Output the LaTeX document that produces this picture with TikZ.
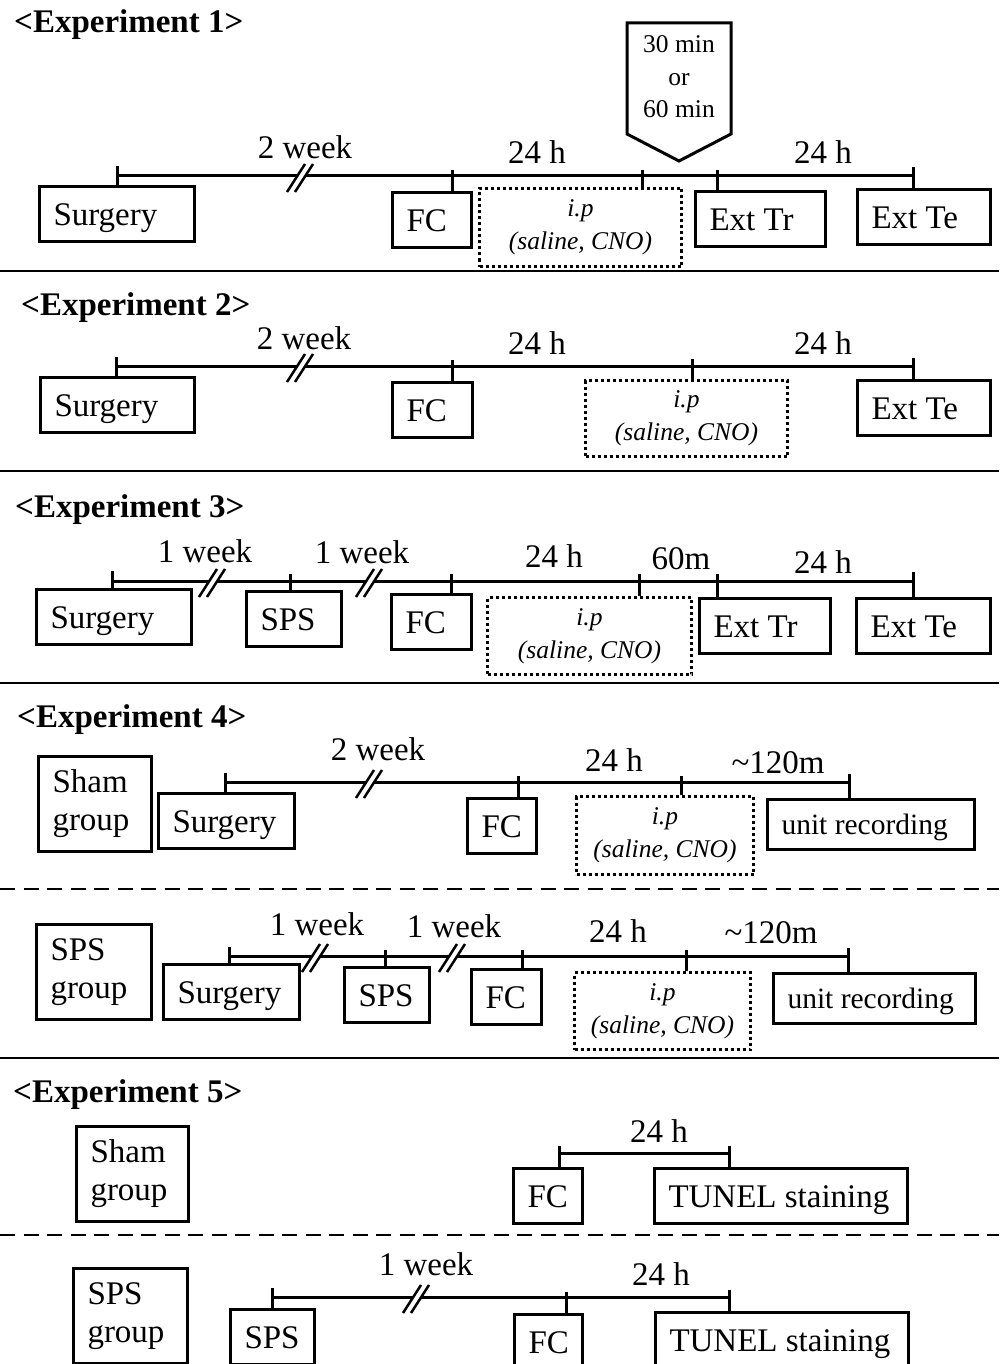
\documentclass[tikz,border=0pt]{standalone}
\usepackage{fontspec}
\setmainfont{Liberation Serif}
\usepackage{tikz}
\usetikzlibrary{positioning}
\tikzset{
box/.style={draw, line width=3pt, anchor=north west, inner xsep=14pt, inner ysep=0pt, minimum height=55pt, text width=#1, align=flush left, text height=23pt, text depth=0pt, font=\fontsize{33}{39}\selectfont}, % event boxes
grp/.style={draw, line width=3pt, anchor=north west, inner xsep=14pt, inner ysep=0pt, minimum height=95pt, text width=#1, align=flush left, font=\fontsize{33}{38}\selectfont}, % group boxes
rec/.style={box=#1, minimum height=50pt, text height=20pt, font=\fontsize{29.5}{35}\selectfont}, % recording boxes
ipbox/.style={draw, line width=3pt, dash pattern=on 3pt off 3pt, anchor=north west, minimum width=#1, minimum height=77pt, inner sep=0pt, align=flush center, font=\itshape\fontsize{25.5}{33}\selectfont}, % injection boxes
cue/.style={align=flush center, inner sep=0pt, font=\fontsize{25.5}{32.5}\selectfont},
lbl/.style={anchor=base, inner sep=0pt, font=\fontsize{33}{39}\selectfont}, % interval labels
ttl/.style={anchor=base west, inner sep=0pt, font=\bfseries\fontsize{33}{39}\selectfont}, % experiment titles
tl/.style={line width=3pt}, % time lines and ticks
sep/.style={line width=2.5pt},
brk/.pic={
  \fill[white] (-13,16) -- (5,-12) -- (13,-12) -- (-5,16) -- cycle;
  \draw[line width=2.5pt] (-13,16) -- (5,-12) (-5,16) -- (13,-12);
},
}

\begin{document}
\begin{tikzpicture}[x=1pt, y=-1pt]
    \useasboundingbox (0,0) rectangle (999,1364);

    % Experiment 1
    \node[ttl] (t1) at (14,33) {<Experiment 1>};
    \node[box=127pt] (sur1) at (38,185) {Surgery};
    \node[box=51pt] (fc1) at (391,191) {FC};
    \node[ipbox=202pt, minimum height=78pt] (ip1) at (478,187) {i.p\\(saline, CNO)};
    \node[box=102pt] (etr1) at (694,190) {Ext Tr};
    \node[box=105pt] (ete1) at (856,188) {Ext Te};
    \draw[tl, line join=miter] (627,23) -- (731,23) -- (731,134) -- (679,161) -- (627,134) -- cycle;
    \node[cue] (cue1) at (679,77) {30 min\\or\\60 min};
    \node[lbl] (w1) at (305,159) {2 week};
    \node[lbl] (h1a) at (537,164) {24 h};
    \node[lbl] (h1b) at (823,164) {24 h};
    \coordinate (a1) at (117,176);
    \coordinate (a2) at (452,176);
    \coordinate (a3) at (642,176);
    \coordinate (a4) at (717,176);
    \coordinate (a5) at (913,176);
    \draw[tl] (a1) -- (a5);
    \draw[tl] ([yshift=10pt]a1) -- (a1 |- sur1.north)
              ([yshift=6pt]a2) -- (a2 |- fc1.north)
              ([yshift=6pt]a3) -- (a3 |- ip1.north)
              ([yshift=6pt]a4) -- (a4 |- etr1.north)
              ([yshift=9pt]a5) -- (a5 |- ete1.north);
    \pic at (300,176) {brk};
    \draw[sep] (0,271) -- (999,271);

    % Experiment 2
    \node[ttl] (t2) at (21,315) {<Experiment 2>};
    \node[box=126pt] (sur2) at (39,376) {Surgery};
    \node[box=52pt] (fc2) at (391,381) {FC};
    \node[ipbox=202pt, minimum height=76pt] (ip2) at (584,379) {i.p\\(saline, CNO)};
    \node[box=105pt] (ete2) at (856,379) {Ext Te};
    \node[lbl] (w2) at (304,349) {2 week};
    \node[lbl] (h2a) at (537,354) {24 h};
    \node[lbl] (h2b) at (823,354) {24 h};
    \coordinate (b1) at (116,366);
    \coordinate (b2) at (452,366);
    \coordinate (b3) at (692,366);
    \coordinate (b4) at (913,366);
    \draw[tl] (b1) -- (b4);
    \draw[tl] ([yshift=9pt]b1) -- (b1 |- sur2.north)
              ([yshift=6pt]b2) -- (b2 |- fc2.north)
              ([yshift=7pt]b3) -- (b3 |- ip2.north)
              ([yshift=8pt]b4) -- (b4 |- ete2.north);
    \pic at (300,366) {brk};
    \draw[sep] (0,471) -- (999,471);

    % Experiment 3
    \node[ttl] (t3) at (15,517) {<Experiment 3>};
    \node[box=127pt] (sur3) at (35,588) {Surgery};
    \node[box=67pt] (sps3) at (245,590) {SPS};
    \node[box=52pt] (fc3) at (390,593) {FC};
    \node[ipbox=204pt] (ip3) at (486,596) {i.p\\(saline, CNO)};
    \node[box=103pt] (etr3) at (698,597) {Ext Tr};
    \node[box=106pt] (ete3) at (855,597) {Ext Te};
    \node[lbl] (w3a) at (205,562) {1 week};
    \node[lbl] (w3b) at (362,563) {1 week};
    \node[lbl] (h3a) at (554,567) {24 h};
    \node[lbl] (m3) at (681,569) {60m};
    \node[lbl] (h3b) at (823,573) {24 h};
    \coordinate (c1) at (112,581);
    \coordinate (c2) at (290,581);
    \coordinate (c3) at (451,581);
    \coordinate (c4) at (639,581);
    \coordinate (c5) at (717,581);
    \coordinate (c6) at (913,581);
    \draw[tl] (c1) -- (c6);
    \draw[tl] ([yshift=10pt]c1) -- (c1 |- sur3.north)
              ([yshift=7pt]c2) -- (c2 |- sps3.north)
              ([yshift=7pt]c3) -- (c3 |- fc3.north)
              ([yshift=7pt]c4) -- (c4 |- ip3.north)
              ([yshift=7pt]c5) -- (c5 |- etr3.north)
              ([yshift=9pt]c6) -- (c6 |- ete3.north);
    \pic at (212,581) {brk};
    \pic at (369,581) {brk};
    \draw[sep] (0,683) -- (999,683);

    % Experiment 4
    \node[ttl] (t4) at (17,727) {<Experiment 4>};
    \node[grp=85pt] (grp4a) at (37,755) {Sham\\group};
    \node[box=108pt] (sur4a) at (157,792) {Surgery};
    \node[box=41pt] (fc4a) at (466,797) {FC};
    \node[ipbox=177pt, minimum height=78pt] (ip4a) at (575,795) {i.p\\(saline, CNO)};
    \node[rec=179pt] (ur4a) at (766,798) {unit recording};
    \node[lbl] (w4a) at (378,760) {2 week};
    \node[lbl] (h4a) at (614,771) {24 h};
    \node[lbl] (m4a) at (778,773) {\textasciitilde120m};
    \coordinate (d1) at (225,782);
    \coordinate (d2) at (518,782);
    \coordinate (d3) at (681,782);
    \coordinate (d4) at (849,782);
    \draw[tl] (d1) -- (d4);
    \draw[tl] ([yshift=9pt]d1) -- (d1 |- sur4a.north)
              ([yshift=6pt]d2) -- (d2 |- fc4a.north)
              ([yshift=6pt]d3) -- (d3 |- ip4a.north)
              ([yshift=8pt]d4) -- (d4 |- ur4a.north);
    \pic at (369,782) {brk};
    \draw[sep, dash pattern=on 15pt off 8.5pt] (0,889) -- (999,889);

    \node[grp=87pt] (grp4b) at (35,923) {SPS\\group};
    \node[box=108pt] (sur4b) at (162,963) {Surgery};
    \node[box=57pt] (sps4b) at (343,966) {SPS};
    \node[box=42pt] (fc4b) at (470,968) {FC};
    \node[ipbox=176pt] (ip4b) at (573,971) {i.p\\(saline, CNO)};
    \node[rec=174pt] (ur4b) at (772,972) {unit recording};
    \node[lbl] (w4b) at (317,935) {1 week};
    \node[lbl] (w4c) at (454,937) {1 week};
    \node[lbl] (h4b) at (618,942) {24 h};
    \node[lbl] (m4b) at (771,943) {\textasciitilde120m};
    \coordinate (e1) at (229,956);
    \coordinate (e2) at (385,956);
    \coordinate (e3) at (522,956);
    \coordinate (e4) at (686,956);
    \coordinate (e5) at (848,956);
    \draw[tl] (e1) -- (e5);
    \draw[tl] ([yshift=9pt]e1) -- (e1 |- sur4b.north)
              ([yshift=6pt]e2) -- (e2 |- sps4b.north)
              ([yshift=6pt]e3) -- (e3 |- fc4b.north)
              ([yshift=6pt]e4) -- (e4 |- ip4b.north)
              ([yshift=8pt]e5) -- (e5 |- ur4b.north);
    \pic at (315,956) {brk};
    \pic at (452,956) {brk};
    \draw[sep] (0,1058) -- (999,1058);

    % Experiment 5
    \node[ttl] (t5) at (13,1102) {<Experiment 5>};
    \node[grp=84pt] (grp5a) at (75,1125) {Sham\\group};
    \node[box=41pt] (fc5a) at (512,1167) {FC};
    \node[box=225pt] (tun5a) at (653,1167) {TUNEL staining};
    \node[lbl] (h5a) at (659,1142) {24 h};
    \coordinate (g1) at (559,1153);
    \coordinate (g2) at (729,1153);
    \draw[tl] (g1) -- (g2);
    \draw[tl] ([yshift=7pt]g1) -- (g1 |- fc5a.north)
              ([yshift=7pt]g2) -- (g2 |- tun5a.north);
    \draw[sep, dash pattern=on 15pt off 8.5pt] (0,1235) -- (999,1235);

    \node[grp=86pt] (grp5b) at (72,1267) {SPS\\group};
    \node[box=56pt] (sps5b) at (229,1308) {SPS};
    \node[box=40pt] (fc5b) at (513,1313) {FC};
    \node[box=225pt] (tun5b) at (654,1311) {TUNEL staining};
    \node[lbl] (w5b) at (426,1275) {1 week};
    \node[lbl] (h5b) at (661,1285) {24 h};
    \coordinate (k1) at (272,1297);
    \coordinate (k2) at (566,1297);
    \coordinate (k3) at (729,1297);
    \draw[tl] (k1) -- (k3);
    \draw[tl] ([yshift=9pt]k1) -- (k1 |- sps5b.north)
              ([yshift=5pt]k2) -- (k2 |- fc5b.north)
              ([yshift=7pt]k3) -- (k3 |- tun5b.north);
    \pic at (416,1297) {brk};
\end{tikzpicture}
\end{document}
